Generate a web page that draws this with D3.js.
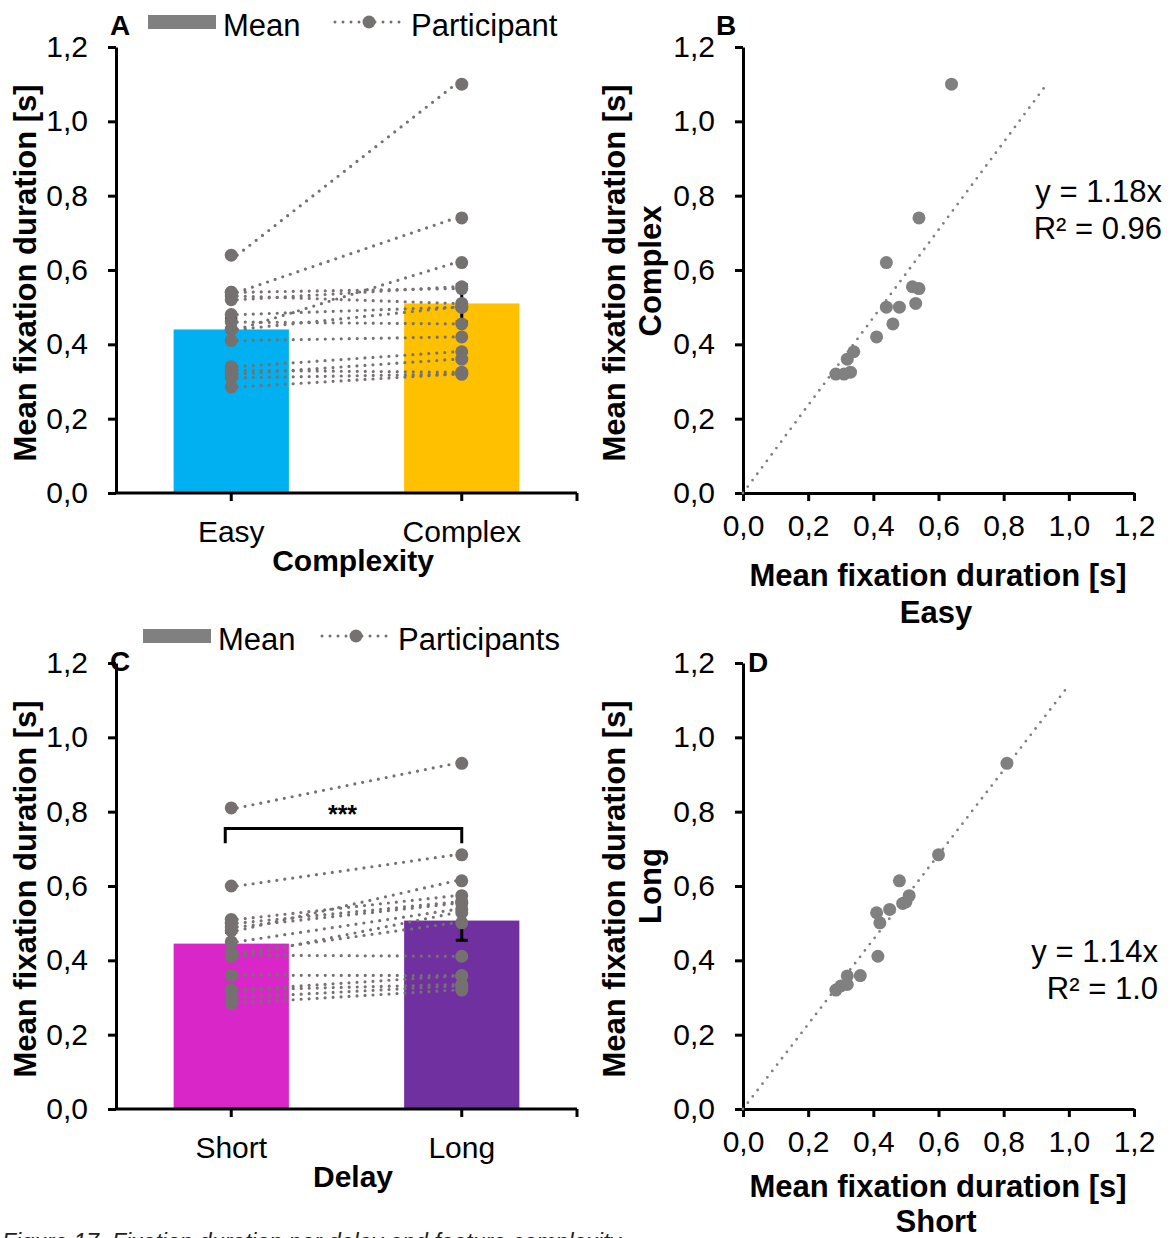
<!DOCTYPE html>
<html>
<head>
<meta charset="utf-8">
<script src="https://cdn.jsdelivr.net/npm/d3@7"></script>
<style>
  body { margin: 0; background: #fff; }
  svg { display: block; font-family: "Liberation Sans", Arial, sans-serif; }
</style>
</head>
<body>
<svg id="fig" width="1176" height="1238"></svg>
<script>
// ---- data ----
const complexityCats = ["Easy", "Complex"];
const complexityMeans = [0.44, 0.51];
const complexityErr = [0.03, 0.05];
const easyVals =    [0.64, 0.54, 0.44, 0.52, 0.54, 0.53, 0.48, 0.44, 0.46, 0.41, 0.34, 0.32, 0.285, 0.31, 0.33];
const complexVals = [1.10, 0.74, 0.62, 0.555, 0.55, 0.51, 0.50, 0.50, 0.455, 0.42, 0.38, 0.36, 0.32, 0.32, 0.325];

const delayCats = ["Short", "Long"];
const delayMeans = [0.445, 0.507];
const delayErr = [0.03, 0.053];
const shortVals = [0.81, 0.60, 0.48, 0.51, 0.49, 0.50, 0.45, 0.41, 0.42, 0.414, 0.36, 0.32, 0.32, 0.30, 0.285];
const longVals =  [0.93, 0.684, 0.614, 0.574, 0.553, 0.557, 0.537, 0.528, 0.501, 0.411, 0.359, 0.358, 0.335, 0.331, 0.32];

const valueTicks = [0, 0.2, 0.4, 0.6, 0.8, 1.0, 1.2];
const trendB = [1.18, 0.93];   // slope, last x
const trendD = [1.14, 1.0];
const eqB = ["y = 1.18x", "R\u00b2 = 0.96"];
const eqD = ["y = 1.14x", "R\u00b2 = 1.0"];
const sigBracket = ["Short", "Long", 0.755, 0.04, "***"];

const svg = d3.select("#fig");
const fmt = d => d3.format(".1f")(d).replace(".", ",");
const dotGrey = "#767171";
const scatterGrey = "#808080";
const FS = 30;

function styleAxis(g) {
  g.selectAll("path, line").attr("stroke", "#000").attr("stroke-width", 3);
  g.selectAll("text").attr("font-size", FS).attr("fill", "#000")
    .attr("font-family", "'Liberation Sans', Arial, sans-serif");
}

function dotted(sel, color, w) {
  return sel.attr("fill", "none").attr("stroke", color)
    .attr("stroke-width", w).attr("stroke-linecap", "round")
    .attr("stroke-dasharray", "0 8");
}

function label(x, y, txt, opts = {}) {
  const t = svg.append("text")
    .attr("x", x).attr("y", y).attr("dy", "0.35em")
    .attr("text-anchor", opts.anchor || "middle")
    .attr("font-size", opts.size || FS)
    .attr("font-weight", opts.bold ? "bold" : "normal")
    .text(txt);
  if (opts.rotate) t.attr("transform", `rotate(-90,${x},${y})`);
  return t;
}

// ---- bar + participants panel ----
function barPanel(cfg) {
  const x = d3.scaleBand().domain(cfg.cats).range([116, 577]).paddingInner(0.5).paddingOuter(0.25);
  const y = d3.scaleLinear().domain([0, 1.2]).range([cfg.y0, cfg.y0 - 446]);
  const cx = c => x(c) + x.bandwidth() / 2;

  svg.append("g").selectAll("rect").data(cfg.cats).join("rect")
    .attr("x", c => x(c)).attr("width", x.bandwidth())
    .attr("y", (c, i) => y(cfg.means[i])).attr("height", (c, i) => y(0) - y(cfg.means[i]))
    .attr("fill", (c, i) => cfg.colors[i]);

  // error bars
  const eb = svg.append("g").attr("stroke", "#000").attr("stroke-width", 3);
  cfg.cats.forEach((c, i) => {
    const lo = y(cfg.means[i] - cfg.err[i]), hi = y(cfg.means[i] + cfg.err[i]);
    eb.append("line").attr("x1", cx(c)).attr("x2", cx(c)).attr("y1", lo).attr("y2", hi);
    eb.append("line").attr("x1", cx(c) - 6).attr("x2", cx(c) + 6).attr("y1", lo).attr("y2", lo);
    eb.append("line").attr("x1", cx(c) - 6).attr("x2", cx(c) + 6).attr("y1", hi).attr("y2", hi);
  });

  // axes
  const ya = svg.append("g").attr("transform", "translate(116,0)")
    .call(d3.axisLeft(y).tickValues(valueTicks).tickFormat(fmt).tickSize(8).tickSizeOuter(0).tickPadding(20));
  styleAxis(ya);
  const xa = svg.append("g").attr("transform", `translate(0,${cfg.y0})`);
  xa.append("line").attr("x1", 116).attr("x2", 577).attr("y1", 0).attr("y2", 0);
  xa.selectAll(".tk").data(cfg.cats.map(cx).concat([577])).join("line")
    .attr("x1", d => d).attr("x2", d => d).attr("y1", 0).attr("y2", 8);
  styleAxis(xa);
  cfg.cats.forEach(c => label(cx(c), cfg.y0 + 38, c));
  label(353, cfg.y0 + 67, cfg.title, { bold: true });

  // participant lines
  const pairs = cfg.a.map((v, i) => [v, cfg.b[i]]);
  dotted(svg.append("g").selectAll("line").data(pairs).join("line"), dotGrey, 3.2)
    .attr("x1", cx(cfg.cats[0]) + 6).attr("x2", cx(cfg.cats[1]) - 6)
    .attr("y1", d => y(d[0])).attr("y2", d => y(d[1]));
  const pts = pairs.flatMap(d => [[cfg.cats[0], d[0]], [cfg.cats[1], d[1]]]);
  svg.append("g").selectAll("circle").data(pts).join("circle")
    .attr("cx", d => cx(d[0])).attr("cy", d => y(d[1])).attr("r", 6.5).attr("fill", dotGrey);

  // y title
  label(25, cfg.y0 - 220, "Mean fixation duration [s]", { bold: true, rotate: true, size: 31 });

  // legend
  const L = cfg.legend;
  svg.append("rect").attr("x", L[0]).attr("y", L[1] - 7).attr("width", 68).attr("height", 14).attr("fill", scatterGrey);
  svg.append("text").attr("x", L[0] + 75).attr("y", L[1] + 14).attr("font-size", 31).text("Mean");
  dotted(svg.append("line"), dotGrey, 3).attr("x1", L[2]).attr("x2", L[2] + 72)
    .attr("y1", L[1]).attr("y2", L[1]);
  svg.append("circle").attr("cx", L[2] + 34).attr("cy", L[1]).attr("r", 6.5).attr("fill", dotGrey);
  svg.append("text").attr("x", L[2] + 76).attr("y", L[1] + 14).attr("font-size", 31).text(cfg.partLabel);

  label(cfg.letter[1], cfg.letter[2], cfg.letter[0], { bold: true, size: 28 });
  return { x, y, cx };
}

// ---- scatter panel ----
function scatterPanel(cfg) {
  const x = d3.scaleLinear().domain([0, 1.2]).range([743, 1134]);
  const y = d3.scaleLinear().domain([0, 1.2]).range([cfg.y0, cfg.y0 - 446]);
  const ya = svg.append("g").attr("transform", "translate(743,0)")
    .call(d3.axisLeft(y).tickValues(valueTicks).tickFormat(fmt).tickSize(8).tickSizeOuter(0).tickPadding(20));
  styleAxis(ya);
  const xa = svg.append("g").attr("transform", `translate(0,${cfg.y0})`)
    .call(d3.axisBottom(x).tickValues(valueTicks).tickFormat(fmt).tickSize(8).tickSizeOuter(0).tickPadding(14));
  styleAxis(xa);

  dotted(svg.append("line"), scatterGrey, 2.8)
    .attr("x1", x(0)).attr("y1", y(0))
    .attr("x2", x(cfg.trend[1])).attr("y2", y(cfg.trend[0] * cfg.trend[1]));

  svg.append("g").selectAll("circle").data(cfg.a.map((v, i) => [v, cfg.b[i]])).join("circle")
    .attr("cx", d => x(d[0])).attr("cy", d => y(d[1])).attr("r", 6.5).attr("fill", scatterGrey);

  svg.append("text").attr("x", cfg.eqX).attr("y", cfg.eqY).attr("text-anchor", "end").attr("font-size", 31).text(cfg.eq[0]);
  svg.append("text").attr("x", cfg.eqX).attr("y", cfg.eqY + 37).attr("text-anchor", "end").attr("font-size", 31).text(cfg.eq[1]);

  label(614, cfg.y0 - 220, "Mean fixation duration [s]", { bold: true, rotate: true, size: 31 });
  label(650, cfg.y0 - cfg.subY, cfg.ylab, { bold: true, rotate: true, size: 31 });
  label(938, cfg.y0 + cfg.xt[0], cfg.xt[2], { bold: true, size: 31 });
  label(936, cfg.y0 + cfg.xt[1], cfg.xlab, { bold: true, size: 31 });
  label(cfg.letter[1], cfg.letter[2], cfg.letter[0], { bold: true, size: 28 });
}

barPanel({
  cats: complexityCats, means: complexityMeans, err: complexityErr,
  a: easyVals, b: complexVals, colors: ["#00B0F0", "#FFC000"],
  y0: 493, title: "Complexity", partLabel: "Participant",
  legend: [148, 22, 335], letter: ["A", 120, 25]
});

const c = barPanel({
  cats: delayCats, means: delayMeans, err: delayErr,
  a: shortVals, b: longVals, colors: ["#D926C8", "#7030A0"],
  y0: 1109, title: "Delay", partLabel: "Participants",
  legend: [143, 636, 322], letter: ["C", 120, 661]
});

// significance bracket (panel C)
{
  const x1 = c.cx(sigBracket[0]) - 6, x2 = c.cx(sigBracket[1]);
  const yt = c.y(sigBracket[2]), yb = c.y(sigBracket[2] - sigBracket[3]);
  svg.append("path").attr("d", `M${x1},${yb}V${yt}H${x2}V${yb}`)
    .attr("fill", "none").attr("stroke", "#000").attr("stroke-width", 3);
  svg.append("text").attr("x", (x1 + x2) / 2 - 1).attr("y", yt - 5)
    .attr("text-anchor", "middle").attr("font-size", 25).attr("font-weight", "bold").text(sigBracket[4]);
}

scatterPanel({
  a: easyVals, b: complexVals, y0: 493, trend: trendB, eq: eqB, eqX: 1162, eqY: 202,
  ylab: "Complex", subY: 222, xlab: "Easy", xt: [82, 119, "Mean fixation duration  [s]"],
  letter: ["B", 726, 25]
});
scatterPanel({
  a: shortVals, b: longVals, y0: 1109, trend: trendD, eq: eqD, eqX: 1158, eqY: 962,
  ylab: "Long", subY: 223, xlab: "Short", xt: [77, 112, "Mean fixation duration [s]"],
  letter: ["D", 758, 662]
});

// caption (cut off by the page edge)
svg.append("text").attr("x", 2).attr("y", 1250).attr("font-size", 23)
  .attr("font-style", "italic").attr("fill", "#222")
  .text("Figure 17. Fixation duration per delay and feature complexity");
</script>
</body>
</html>
